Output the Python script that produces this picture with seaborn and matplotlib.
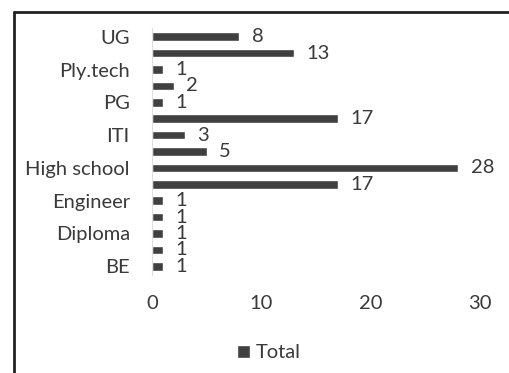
import matplotlib
matplotlib.use("Agg")
import matplotlib.pyplot as plt
from matplotlib.lines import Line2D
import seaborn as sns
import pandas as pd

# Education levels, listed top to bottom as they appear on the chart
categories = ["UG", "SSLC", "Ply.tech", "PhD", "PG", "Nil", "ITI",
              "Higher secondary", "High school", "Graduate", "Engineer",
              "Doctor", "Diploma", "BSc", "BE"]
totals = [8, 13, 1, 2, 1, 17, 3, 5, 28, 17, 1, 1, 1, 1, 1]
# Only every other category name is printed on the axis
shown_labels = ["UG", "", "Ply.tech", "", "PG", "", "ITI", "",
                "High school", "", "Engineer", "", "Diploma", "", "BE"]
x_ticks = [0, 10, 20, 30]
series_name = "Total"

df = pd.DataFrame({"category": categories, "total": totals})

sns.set_theme(style="white")
plt.rcParams["font.family"] = ["Lato", "DejaVu Sans"]

text_color = "#3a3a3a"
bar_color = "#404040"
fs = 14.5

fig = plt.figure(figsize=(5.09, 3.73), dpi=100)
ax = fig.add_axes([152 / 509, 1 - 274.5 / 373, (480 - 152) / 509, (274.5 - 28.5) / 373])

sns.barplot(data=df, x="total", y="category", order=categories, orient="h",
            color=bar_color, width=0.52, saturation=1, label=series_name, ax=ax)

ax.set_xlim(0, 30)
ax.set_xticks(x_ticks)
ax.set_xticklabels([str(t) for t in x_ticks], fontsize=fs, color=text_color)
ax.set_yticks(range(len(categories)))
ax.set_yticklabels(shown_labels, fontsize=fs, color=text_color)
ax.tick_params(axis="y", length=0, pad=16)
ax.tick_params(axis="x", length=0, pad=15)
ax.set_xlabel("")
ax.set_ylabel("")

for side in ["top", "right", "bottom"]:
    ax.spines[side].set_visible(False)
ax.spines["left"].set_color("#dddddd")
ax.spines["left"].set_linewidth(0.8)

for cont in ax.containers:
    ax.bar_label(cont, labels=[str(v) for v in totals], padding=9,
                 fontsize=fs, color=text_color)

leg = ax.legend(loc="center", bbox_to_anchor=(269 / 509, 1 - 353 / 373),
                bbox_transform=fig.transFigure, frameon=False, fontsize=fs,
                handlelength=0.6, handleheight=0.6, handletextpad=0.3)
for t in leg.get_texts():
    t.set_color(text_color)

# Frame around the chart area: top and left edges
fig.add_artist(Line2D([13.5 / 509, 1.0], [1 - 11.5 / 373, 1 - 11.5 / 373],
                      transform=fig.transFigure, color="#222222", lw=2.0))
fig.add_artist(Line2D([13.5 / 509, 13.5 / 509], [0.0, 1 - 11.5 / 373],
                      transform=fig.transFigure, color="#222222", lw=2.0))

fig.savefig("out.png", dpi=100, facecolor="white")
